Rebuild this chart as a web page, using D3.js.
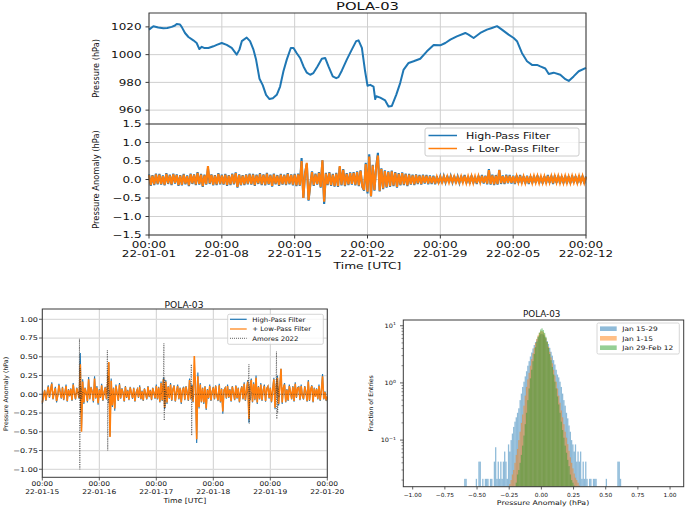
<!DOCTYPE html>
<html><head><meta charset="utf-8">
<script src="https://cdn.jsdelivr.net/npm/d3@7"></script>
<style>body{margin:0;background:#fff}svg{display:block}text{font-family:"DejaVu Sans",sans-serif;fill:#111}</style>
</head><body><svg id="c" width="685" height="507"></svg>
<script>
// ===== DATA =====
// Top: station pressure (days since 2022-01-01 00:00 UTC, hPa)
const pressureDays = [0,0.42,0.89,1.38,1.76,2.18,2.5,2.66,2.98,3.14,
3.46,3.79,4.26,4.58,4.84,5.07,5.29,5.71,6.19,6.51,
6.99,7.47,7.95,8.43,8.69,8.92,9.39,9.71,10.04,10.29,
10.62,10.93,11.25,11.58,11.9,12.28,12.6,12.92,13.24,13.63,
13.89,14.2,14.52,14.85,15.17,15.49,15.8,16.19,16.61,16.93,
17.25,17.66,17.99,18.21,18.54,19.01,19.49,19.91,20.14,20.46,
20.77,21.0,21.26,21.58,21.74,21.84,22.22,22.7,23.02,23.34,
23.76,24.14,24.46,24.95,25.43,26.07,26.71,27.36,27.99,28.48,
28.96,29.59,30.4,30.71,31.2,31.84,32.48,32.96,33.45,33.92,
34.56,35.05,35.37,35.84,36.33,36.81,37.29,37.61,38.09,38.42,
38.89,39.53,40.02,40.34,40.81,41.3,42.0];
const pressureHpa = [1018,1020.5,1019.5,1019,1019.2,1020,1021,1022,1021.7,1020,
1015.6,1012.7,1010.3,1008.4,1004,1005.6,1004.8,1004.8,1006,1007,
1008.4,1007,1004.8,1000,1003.6,1009.7,1012.3,1009.7,1003.6,996.4,
982.6,978,971,968,968.5,971,977,988,996.4,1004.8,
1004.8,1001,997.6,991.5,987,985.5,986.7,991.5,997,997.6,
991.5,984.3,983,983.8,988.6,996.4,1003.6,1009.7,1010.3,1004.8,
988,977.6,978.2,977,968,970,969,967,962.6,963,
971,979.5,989,994,995.2,997,1002.4,1007,1006.7,1008.4,
1010.8,1013.2,1015.6,1014.4,1012,1015.6,1018,1019.2,1020.5,1018,
1014.4,1012,1009.7,1001.2,995.2,992.6,992.6,991.5,990,986,
987,985.5,982.3,981,984.3,988,990.5];

// Middle: pressure anomaly, samples every 4 h from 2022-01-01 00:00 UTC
const anomStart = "2022-01-01T00:00:00Z";
const anomStepHours = 4;
const anomHighPass = [
0.14,-0.17,0.12,-0.15,0.16,-0.13, 0.15,-0.14,0.11,-0.16,0.17,-0.12, 0.13,-0.15,0.16,-0.11,0.14,-0.17,
0.12,-0.16,0.15,-0.13,0.11,-0.18, 0.16,-0.12,0.14,-0.15,0.2,-0.14, 0.15,-0.2,0.13,-0.14,0.3,-0.12,
0.14,-0.16,0.12,-0.15,0.17,-0.13, 0.13,-0.14,0.15,-0.17,0.12,-0.15, 0.16,-0.13,0.19,-0.22,0.14,-0.16,
0.12,-0.15,0.14,-0.13,0.16,-0.14, 0.15,-0.17,0.13,-0.12,0.17,-0.15, 0.14,-0.16,0.18,-0.14,0.13,-0.19,
0.16,-0.13,0.12,-0.17,0.15,-0.14, 0.13,-0.15,0.17,-0.13,0.14,-0.16, 0.15,-0.18,0.16,-0.17,0.58,-0.5,
0.18,0.42,-0.57,-0.15,0.22,-0.17, 0.16,-0.14,0.2,-0.22,0.52,-0.66, 0.18,-0.15,0.2,-0.17,0.15,-0.19,
0.18,-0.2,0.35,-0.16,0.28,-0.18, 0.17,-0.15,0.19,-0.14,0.2,-0.16, 0.22,-0.18,0.25,-0.2,-0.3,0.45,
-0.38,0.68,-0.46,0.4,-0.3,0.35, 0.72,-0.32,0.3,-0.26,0.25,-0.22, 0.22,-0.2,0.24,-0.18,0.2,-0.22,
0.17,-0.16,0.19,-0.15,0.16,-0.18, 0.15,-0.14,0.13,-0.15,0.14,-0.12, 0.12,-0.14,0.13,-0.11,0.12,-0.13,
0.11,-0.12,0.1,-0.13,0.09,-0.1, 0.08,-0.1,0.09,-0.08,0.1,-0.09, 0.09,-0.08,0.1,-0.1,0.08,-0.09,
0.1,-0.09,0.12,-0.1,0.09,-0.11, 0.11,-0.1,0.09,-0.12,0.1,-0.09, 0.12,-0.11,0.1,-0.13,0.28,-0.14,
0.13,-0.15,0.12,-0.14,0.26,-0.12, 0.11,-0.12,0.13,-0.1,0.12,-0.11, 0.1,-0.12,0.11,-0.09,0.12,-0.1,
0.09,-0.11,0.1,-0.12,0.09,-0.1, 0.1,-0.09,0.11,-0.1,0.09,-0.11, 0.09,-0.1,0.12,-0.09,0.1,-0.12,
0.11,-0.09,0.1,-0.11,0.09,-0.1, 0.1,-0.11,0.09,-0.1,0.11,-0.09, 0.09,-0.1,0.11,-0.09,0.1,-0.11,
0.08];
const anomLowPass = [
0.12,-0.15,0.1,-0.13,0.14,-0.11, 0.13,-0.12,0.09,-0.14,0.15,-0.1, 0.11,-0.13,0.14,-0.09,0.12,-0.15,
0.1,-0.14,0.13,-0.11,0.09,-0.16, 0.14,-0.1,0.12,-0.13,0.18,-0.12, 0.13,-0.18,0.11,-0.12,0.36,-0.1,
0.12,-0.14,0.1,-0.13,0.15,-0.11, 0.11,-0.12,0.13,-0.15,0.1,-0.13, 0.14,-0.11,0.17,-0.2,0.12,-0.14,
0.1,-0.13,0.12,-0.11,0.14,-0.12, 0.13,-0.15,0.11,-0.1,0.15,-0.13, 0.12,-0.14,0.16,-0.12,0.11,-0.17,
0.14,-0.11,0.1,-0.15,0.13,-0.12, 0.11,-0.13,0.15,-0.11,0.12,-0.14, 0.13,-0.16,0.14,-0.15,0.5,-0.5,
0.16,0.45,-0.55,-0.13,0.2,-0.15, 0.14,-0.12,0.18,-0.2,0.52,-0.6, 0.16,-0.13,0.18,-0.15,0.13,-0.17,
0.16,-0.18,0.36,-0.14,0.26,-0.16, 0.15,-0.13,0.17,-0.12,0.18,-0.14, 0.2,-0.16,0.23,-0.18,-0.28,0.42,
-0.33,0.62,-0.45,0.38,-0.28,0.33, 0.65,-0.3,0.28,-0.24,0.23,-0.2, 0.2,-0.18,0.22,-0.16,0.18,-0.2,
0.15,-0.14,0.17,-0.13,0.14,-0.16, 0.13,-0.12,0.11,-0.13,0.12,-0.1, 0.1,-0.12,0.11,-0.09,0.1,-0.11,
0.09,-0.1,0.08,-0.11,0.07,-0.08, 0.07,-0.08,0.08,-0.07,0.08,-0.08, 0.08,-0.07,0.08,-0.08,0.07,-0.08,
0.08,-0.08,0.1,-0.09,0.08,-0.09, 0.09,-0.09,0.08,-0.1,0.09,-0.08, 0.1,-0.09,0.09,-0.11,0.25,-0.12,
0.11,-0.13,0.1,-0.12,0.25,-0.1, 0.09,-0.1,0.11,-0.09,0.1,-0.09, 0.09,-0.1,0.09,-0.08,0.1,-0.09,
0.08,-0.09,0.09,-0.1,0.08,-0.09, 0.09,-0.08,0.09,-0.09,0.08,-0.09, 0.08,-0.09,0.1,-0.08,0.09,-0.1,
0.09,-0.08,0.09,-0.09,0.08,-0.09, 0.09,-0.09,0.08,-0.09,0.09,-0.08, 0.08,-0.09,0.09,-0.08,0.09,-0.09,
0.07];
const topTickLabels = ["2022-01-01","2022-01-08","2022-01-15","2022-01-22","2022-01-29","2022-02-05","2022-02-12"];
const pressureTicks = [960,980,1000,1020];
const anomTicks = [-1.5,-1.0,-0.5,0.0,0.5,1.0,1.5];

// Bottom left: zoom Jan 15 - Jan 20, samples every 30 min
const zoomStart = "2022-01-15T00:00:00Z";
const zoomEnd = "2022-01-20T00:00:00Z";
const zoomStepHours = 0.5;
const zoomHighPass = [
-0.13,-0.03,0.06,-0.09,0.02,0.12,-0.05,0.07,0.16,-0.07,0.03,0.1,
-0.11,-0.02,0.14,0.04,-0.06,0.1,-0.08,0.02,0.13,-0.1,0.07,-0.03,
0.08,-0.09,0.15,0.01,-0.07,0.09,0.03,-0.06,0.55,-0.45,0.2,-0.13,
0.09,0.02,-0.11,0.23,-0.07,0.1,0.04,-0.11,0.24,-0.06,0.11,-0.14,
0.07,-0.05,0.14,-0.09,0.03,0.1,-0.07,0.16,0.42,-0.56,0.21,-0.17,
0.09,-0.22,0.13,0.02,-0.09,0.15,-0.06,0.08,0.03,-0.1,0.11,-0.05,
0.06,-0.08,0.1,0.02,-0.06,0.09,-0.1,0.03,0.07,-0.05,0.12,-0.07,
0.05,-0.09,0.08,0.01,-0.07,0.11,-0.04,0.06,-0.08,0.09,0.02,-0.06,
0.13,-0.07,0.1,-0.11,0.17,-0.09,0.22,-0.2,0.19,-0.13,0.11,-0.06,
0.15,-0.09,0.07,0.12,-0.1,0.04,0.13,-0.07,0.09,-0.13,0.06,0.1,
-0.08,0.11,0.03,-0.09,0.21,-0.07,0.13,-0.11,0.25,0.2,-0.65,0.29,
-0.19,0.15,-0.11,0.09,-0.13,0.11,-0.21,0.07,-0.06,0.13,-0.09,0.04,
0.1,-0.07,0.12,-0.02,-0.09,0.14,-0.11,0.08,-0.26,0.06,0.09,-0.06,
0.13,-0.05,0.07,-0.1,0.11,0.02,-0.08,0.12,-0.06,0.09,-0.11,0.04,
0.11,-0.07,0.16,-0.09,0.06,0.19,-0.38,0.13,0.21,-0.11,0.16,-0.08,
0.25,-0.13,0.11,-0.07,0.15,-0.09,0.06,0.13,-0.1,0.08,0.11,-0.06,
0.09,-0.11,0.07,0.22,-0.2,0.13,0.25,-0.15,0.11,0.34,-0.13,0.09,
0.15,-0.11,0.07,-0.09,0.13,0.03,-0.07,0.11,-0.1,0.16,-0.05,0.09,
0.1,-0.08,0.13,-0.02,-0.07,0.11,0.04,-0.1,0.19,-0.09,0.07,0.12,
-0.11,0.09,-0.03,0.08,-0.07,0.13,-0.09,0.06,0.27,-0.07,0.04,-0.09,
-0.04];
const zoomLowPass = [
-0.11,-0.02,0.05,-0.08,0.02,0.1,-0.04,0.06,0.14,-0.06,0.02,0.08,
-0.09,-0.02,0.12,0.03,-0.05,0.09,-0.07,0.02,0.11,-0.09,0.06,-0.02,
0.07,-0.08,0.13,0.01,-0.06,0.08,0.02,-0.05,0.4,-0.5,0.17,-0.11,
0.08,0.02,-0.09,0.2,-0.06,0.09,0.03,-0.09,0.21,-0.05,0.09,-0.12,
0.06,-0.04,0.12,-0.08,0.02,0.09,-0.06,0.14,0.43,-0.57,0.18,-0.15,
0.08,-0.19,0.11,0.02,-0.08,0.13,-0.05,0.07,0.02,-0.09,0.1,-0.04,
0.05,-0.07,0.09,0.02,-0.05,0.08,-0.09,0.02,0.06,-0.04,0.1,-0.06,
0.04,-0.08,0.07,0.01,-0.06,0.1,-0.03,0.05,-0.07,0.08,0.02,-0.05,
0.11,-0.06,0.09,-0.1,0.15,-0.08,0.2,-0.18,0.17,-0.11,0.1,-0.05,
0.13,-0.08,0.06,0.11,-0.09,0.03,0.11,-0.06,0.08,-0.11,0.05,0.09,
-0.07,0.1,0.02,-0.08,0.19,-0.06,0.11,-0.1,0.51,0.1,-0.6,0.24,
-0.17,0.13,-0.1,0.08,-0.11,0.1,-0.19,0.06,-0.05,0.11,-0.08,0.03,
0.09,-0.06,0.11,-0.02,-0.08,0.12,-0.1,0.07,-0.23,0.05,0.08,-0.05,
0.11,-0.04,0.06,-0.09,0.1,0.02,-0.07,0.11,-0.05,0.08,-0.1,0.03,
0.1,-0.06,0.14,-0.08,0.05,0.17,-0.33,0.11,0.19,-0.1,0.14,-0.07,
0.22,-0.11,0.1,-0.06,0.13,-0.08,0.05,0.11,-0.09,0.07,0.1,-0.05,
0.08,-0.1,0.06,0.2,-0.18,0.11,0.22,-0.13,0.1,0.34,-0.11,0.08,
0.13,-0.1,0.06,-0.08,0.11,0.03,-0.06,0.1,-0.09,0.14,-0.04,0.08,
0.09,-0.07,0.11,-0.02,-0.06,0.1,0.03,-0.09,0.17,-0.08,0.06,0.11,
-0.1,0.08,-0.03,0.07,-0.06,0.11,-0.08,0.05,0.24,-0.06,0.03,-0.08,
-0.03];
const amoresHours = [0,14,15.2,15.5,15.65,15.8,15.95,16.1,16.3,16.6,17,18,
27,27.2,27.4,27.55,27.7,27.9,28.1,28.5,29,
50,50.7,51.0,51.2,51.35,51.5,51.7,52,52.5,53,
62,62.5,62.75,62.9,63.1,63.4,64,
86,86.7,87.0,87.15,87.35,87.6,88,89,
98,98.4,98.6,98.75,98.9,99.1,99.3,99.6,100,120];
const amoresValues = [0,0,0.03,-0.05,0.74,-1.0,0.35,-0.25,0.1,-0.06,0.03,0,
0,0.04,0.59,-0.75,0.25,-0.12,0.06,-0.02,0,
0,0.05,0.2,0.68,-0.35,0.22,-0.18,0.06,-0.03,0,
0,0.05,0.4,-0.55,0.12,-0.06,0,
0,0.04,0.4,-0.39,0.1,-0.08,0.02,0,
0,0.05,0.57,-0.33,0.2,-0.25,0.1,-0.04,0,0];
const zoomTicks = [-1.0,-0.75,-0.5,-0.25,0.0,0.25,0.5,0.75,1.0];

// Bottom right: histograms (density per 0.01 hPa bin)
const histBinWidth = 0.01;
const histJan15Start = -0.62;
const histJan15 = [0,0,0.021,0.021,0,0,0,0,0,0,
0,0.021,0,0.042,0.042,0,0.021,0,0.021,0.021,
0.021,0,0.021,0.021,0,0.042,0.075,0.021,0.042,0.021,
0.042,0.021,0.042,0.063,0.042,0.021,0.084,0.063,0.1,0.13,
0.17,0.21,0.25,0.3,0.36,0.5,0.65,0.85,1.05,1.3,
1.6,2.0,2.4,2.9,3.4,4.0,4.6,5.2,5.8,6.3,
6.8,7.1,7.2,7.0,6.5,6.0,5.4,4.8,4.1,3.5,
3.0,2.5,2.1,1.7,1.4,1.25,1.05,0.85,0.65,0.5,
0.4,0.3,0.24,0.18,0.14,0.1,0.084,0.063,0.084,0.042,
0.063,0.042,0.063,0.021,0.042,0.021,0.042,0.021,0,0.021,
0.021,0,0.021,0.021,0.021,0,0,0,0,0,
0,0,0.021,0,0,0,0,0,0,0,
0,0.042,0.042,0.021];
const histJan1Start = -0.25;
const histJan1 = [0.017,0.02,0.025,0.03,0.04,0.055,0.07,0.1,0.14,0.2,
0.28,0.4,0.6,0.85,1.15,1.5,2.0,2.6,3.3,4.1,
5.0,5.9,6.8,7.5,8.0,8.1,7.7,7.0,6.1,5.2,
4.3,3.5,2.8,2.2,1.7,1.35,1.05,0.8,0.6,0.45,
0.33,0.25,0.19,0.14,0.11,0.085,0.065,0.05,0.04,0.032,
0.026,0.022,0.02,0.018,0.016];
const histJan29Start = -0.20;
const histJan29 = [0.018,0.025,0.03,0.04,0.055,0.08,0.12,0.19,0.3,0.5,
0.8,1.2,1.7,2.4,3.2,4.2,5.3,6.5,7.6,8.6,
9.0,8.4,7.5,6.4,5.2,4.1,3.2,2.5,1.9,1.4,
1.05,0.8,0.58,0.42,0.3,0.21,0.15,0.11,0.08,0.06,
0.045,0.035,0.025,0.02,0.018,0.016];
const histTicks = [-1.0,-0.75,-0.5,-0.25,0.0,0.25,0.5,0.75,1.0];
const histLabels = ["Jan 15-29","Jan 1-15","Jan 29-Feb 12"];
const title = "POLA-03";

// ===== DRAW =====
const svg = d3.select("#c");
const BLUE="#1f77b4", ORANGE="#ff7f0e", GREEN="#2ca02c", GRID="#cfcfcf", SPINE="#3a3a3a";
const H = 3600e3;
function txt(g,x,y,s,size,sx,anchor,rot){
  return g.append("text")
    .attr("transform",`translate(${x},${y})`+(rot?` rotate(${rot})`:"")+` scale(${sx},1)`)
    .attr("font-size",size).attr("text-anchor",anchor||"middle").text(s);
}
function hline(g,x1,x2,y,c,w){g.append("line").attr("x1",x1).attr("x2",x2).attr("y1",y).attr("y2",y).attr("stroke",c).attr("stroke-width",w);}
function vline(g,x,y1,y2,c,w){g.append("line").attr("x1",x).attr("x2",x).attr("y1",y1).attr("y2",y2).attr("stroke",c).attr("stroke-width",w);}
const f1 = d3.format(".1f"), f2 = d3.format(".2f");

// ---------- Top figure ----------
{
const g = svg.append("g");
const t0 = new Date(anomStart);
const tEnd = new Date(topTickLabels[topTickLabels.length-1]+"T00:00:00Z");
const x = d3.scaleUtc().domain([t0,tEnd]).range([149,586]);
const yP = d3.scaleLinear().domain([950,1030]).range([124,13]);
const yA = d3.scaleLinear().domain([-1.5,1.5]).range([235,124]);
const ticks = topTickLabels.map(s=>new Date(s+"T00:00:00Z"));
ticks.forEach(t=>{vline(g,x(t),13,235,GRID,1);});
pressureTicks.forEach(v=>hline(g,149,586,yP(v),GRID,1));
anomTicks.forEach(v=>hline(g,149,586,yA(v),GRID,1));
g.append("path").datum(pressureDays.map((d,i)=>[new Date(+t0+d*24*H),pressureHpa[i]]))
 .attr("d",d3.line().x(d=>x(d[0])).y(d=>yP(d[1])))
 .attr("fill","none").attr("stroke",BLUE).attr("stroke-width",2).attr("stroke-linejoin","round");
const lineA = d3.line().x((d,i)=>x(new Date(+t0+i*anomStepHours*H))).y(d=>yA(d));
g.append("path").attr("d",lineA(anomHighPass)).attr("fill","none").attr("stroke",BLUE).attr("stroke-width",2.1);
g.append("path").attr("d",lineA(anomLowPass)).attr("fill","none").attr("stroke",ORANGE).attr("stroke-width",2.1);
g.append("rect").attr("x",149).attr("y",13).attr("width",437).attr("height",222).attr("fill","none").attr("stroke",SPINE).attr("stroke-width",1);
hline(g,149,586,124,SPINE,1.2);
pressureTicks.forEach(v=>{hline(g,145.5,149,yP(v),SPINE,1);txt(g,141.5,yP(v)+3.3,String(v),9,1.33,"end");});
anomTicks.forEach(v=>{hline(g,145.5,149,yA(v),SPINE,1);txt(g,141.5,yA(v)+3.3,f1(v),9,1.33,"end");});
const df = d3.utcFormat("%y-%m-%d"), hf = d3.utcFormat("%H:%M");
ticks.forEach(t=>{vline(g,x(t),235,238.5,SPINE,1);txt(g,x(t),247.5,hf(t),9,1.33);txt(g,x(t),256.5,df(t),9,1.33);});
txt(g,367.5,269,"Time [UTC]",9.3,1.32);
txt(g,99,68.5,"Pressure (hPa)",8.2,1,"middle",-90);
txt(g,99,179.5,"Pressure Anomaly (hPa)",8.3,1,"middle",-90);
txt(g,367.5,9.5,title,10.4,1.42);
g.append("rect").attr("x",425).attr("y",128).attr("width",154).attr("height",28).attr("rx",2)
 .attr("fill","#fff").attr("fill-opacity",0.8).attr("stroke","#cccccc");
hline(g,428.5,457,135.5,BLUE,1.5); hline(g,428.5,457,148.5,ORANGE,1.5);
txt(g,466,138.8,"High-Pass Filter",8.6,1.28,"start");
txt(g,466,151.8,"+ Low-Pass Filter",8.6,1.28,"start");
}

// ---------- Bottom left ----------
{
const g = svg.append("g");
const z0 = new Date(zoomStart), z1 = new Date(zoomEnd);
const x = d3.scaleUtc().domain([z0,z1]).range([42.3,327.3]);
const y = d3.scaleLinear().domain([-1.107,1.137]).range([477.3,309]);
const ticks = d3.utcDay.range(z0, new Date(+z1+1));
ticks.forEach(t=>vline(g,x(t),309,477.3,GRID,1));
zoomTicks.forEach(v=>hline(g,42.3,327.3,y(v),"#dcdcdc",1.2));
const lz = d3.line().x((d,i)=>x(new Date(+z0+i*zoomStepHours*H))).y(d=>y(d));
g.append("path").attr("d",lz(zoomHighPass)).attr("fill","none").attr("stroke",BLUE).attr("stroke-width",1.1);
g.append("path").attr("d",lz(zoomLowPass)).attr("fill","none").attr("stroke",ORANGE).attr("stroke-width",1.6);
g.append("path").attr("d",d3.line().x((d,i)=>x(new Date(+z0+d*H))).y((d,i)=>y(amoresValues[i]))(amoresHours))
 .attr("fill","none").attr("stroke","#333").attr("stroke-opacity",0.85).attr("stroke-width",0.8).attr("stroke-dasharray","1,1.3");
g.append("rect").attr("x",42.3).attr("y",309).attr("width",285).attr("height",168.3).attr("fill","none").attr("stroke",SPINE).attr("stroke-width",1);
zoomTicks.forEach(v=>{hline(g,39,42.3,y(v),SPINE,0.8);txt(g,38,y(v)+2.3,f2(v),6.5,1.25,"end");});
const df = d3.utcFormat("%y-%m-%d"), hf = d3.utcFormat("%H:%M");
ticks.forEach(t=>{vline(g,x(t),477.3,480.5,SPINE,0.8);txt(g,x(t),486,hf(t),6.5,1.15);txt(g,x(t),494.3,df(t),6.5,1.15);});
txt(g,184.8,503,"Time [UTC]",7,1.11);
txt(g,7.5,394,"Pressure Anomaly (hPa)",6.25,1,"middle",-90);
txt(g,184,307.5,title,8.3,1.1);
g.append("rect").attr("x",227.7).attr("y",314.3).attr("width",95.6).attr("height",30).attr("rx",1.5)
 .attr("fill","#fff").attr("fill-opacity",0.8).attr("stroke","#cccccc").attr("stroke-width",0.8);
hline(g,230,246.7,319.3,BLUE,1.2); hline(g,230,246.7,329,ORANGE,1.2);
g.append("line").attr("x1",230).attr("x2",246.7).attr("y1",338.3).attr("y2",338.3).attr("stroke","#555").attr("stroke-width",0.9).attr("stroke-dasharray","1,1");
txt(g,252.3,321.6,"High-Pass Filter",6.3,1.1,"start");
txt(g,252.3,331.3,"+ Low-Pass Filter",6.3,1.1,"start");
txt(g,252.3,340.6,"Amores 2022",6.3,1.1,"start");
}

// ---------- Bottom right ----------
{
const g = svg.append("g");
const x = d3.scaleLinear().domain([-1.073,1.106]).range([403.3,683.7]);
const y = d3.scaleLog().domain([0.0153,12.6]).range([486.7,320]);
const series = [[histJan15Start,histJan15,BLUE],[histJan1Start,histJan1,ORANGE],[histJan29Start,histJan29,GREEN]];
series.forEach(([s,vals,c])=>{
  g.append("g").selectAll("rect").data(vals.map((v,i)=>[s+i*histBinWidth,v]).filter(d=>d[1]>y.domain()[0]))
   .join("rect").attr("x",d=>x(d[0])).attr("width",d=>x(d[0]+histBinWidth)-x(d[0]))
   .attr("y",d=>y(d[1])).attr("height",d=>486.7-y(d[1])).attr("fill",c).attr("fill-opacity",0.5);
});
g.append("rect").attr("x",403.3).attr("y",320).attr("width",280.4).attr("height",166.7).attr("fill","none").attr("stroke",SPINE).attr("stroke-width",1);
[[0.1,"−1"],[1,"0"],[10,"1"]].forEach(([v,e])=>{
  hline(g,400,403.3,y(v),SPINE,0.8);
  const t = txt(g,396,y(v)+2.3,"10",6,1.1,"end");
  t.append("tspan").attr("dy",-2.6).attr("font-size",4.3).text(e);
});
[0.02,0.03,0.04,0.05,0.06,0.07,0.08,0.09,0.2,0.3,0.4,0.5,0.6,0.7,0.8,0.9,2,3,4,5,6,7,8,9].forEach(v=>hline(g,401.5,403.3,y(v),SPINE,0.6));
histTicks.forEach(v=>{vline(g,x(v),486.7,489.5,SPINE,0.8);txt(g,x(v),496.5,f2(v),5.6,1.05);});
txt(g,543,505,"Pressure Anomaly (hPa)",6.5,1.2);
txt(g,373,403.3,"Fraction of Entries",6.2,1,"middle",-90);
txt(g,541.7,317,title,8.3,1.06);
g.append("rect").attr("x",597).attr("y",323).attr("width",82.3).attr("height",31).attr("rx",1.5)
 .attr("fill","#fff").attr("fill-opacity",0.8).attr("stroke","#cccccc").attr("stroke-width",0.8);
[[328.7,BLUE],[338.3,ORANGE],[347.7,GREEN]].forEach(([yy,c],i)=>{
  g.append("rect").attr("x",600).attr("y",yy-2.3).attr("width",16.7).attr("height",4.6).attr("fill",c).attr("fill-opacity",0.5);
  txt(g,622.3,yy+2.2,histLabels[i],6.2,1.2,"start");
});
}
</script></body></html>
